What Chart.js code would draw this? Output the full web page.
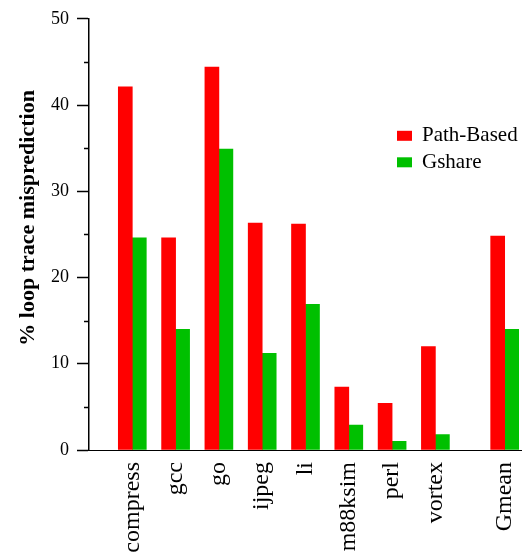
<!DOCTYPE html>
<html>
<head>
<meta charset="utf-8">
<script src="https://cdn.jsdelivr.net/npm/chart.js@4/dist/chart.umd.min.js"></script>
<style>
  html, body { margin: 0; padding: 0; background: #fff; }
  #wrap { width: 522px; height: 553px; }
</style>
</head>
<body>
<div id="wrap"><canvas id="c" width="522" height="553"></canvas></div>
<script>
// ---- data ----
const categories = ['compress', 'gcc', 'go', 'ijpeg', 'li', 'm88ksim', 'perl', 'vortex', 'Gmean'];
const categoryPositions = [0, 1, 2, 3, 4, 5, 6, 7, 8.6];
const pathBased = [42.1, 24.6, 44.4, 26.3, 26.2, 7.3, 5.4, 12.0, 24.8];
const gshare = [24.6, 14.0, 34.9, 11.2, 16.9, 2.9, 1.0, 1.8, 14.0];
const yTicks = [0, 10, 20, 30, 40, 50];
const yMinorTicks = [5, 15, 25, 35, 45];
const seriesNames = ['Path-Based', 'Gshare'];
const seriesColors = ['#ff0000', '#00c000'];

const toPoints = vals => vals.map((v, i) => ({ x: categoryPositions[i], y: v }));

const minorTickPlugin = {
  id: 'minorTicks',
  afterDraw(chart) {
    const y = chart.scales.y;
    const ctx = chart.ctx;
    ctx.save();
    ctx.strokeStyle = '#000';
    ctx.lineWidth = 1.5;
    yMinorTicks.forEach(v => {
      const py = Math.round(y.getPixelForValue(v)) + 0.5;
      ctx.beginPath();
      ctx.moveTo(y.right - 5, py);
      ctx.lineTo(y.right, py);
      ctx.stroke();
    });
    ctx.restore();
  }
};

const legendPlugin = {
  id: 'insideLegend',
  afterDraw(chart) {
    const ctx = chart.ctx;
    const area = chart.chartArea;
    const boxX = area.right - 125;
    const boxY0 = area.top + 112;
    const rowH = 26.5;
    ctx.save();
    ctx.font = '21px "Liberation Serif", "Times New Roman", serif';
    ctx.textBaseline = 'middle';
    ctx.textAlign = 'left';
    chart.data.datasets.forEach((ds, i) => {
      const by = boxY0 + i * rowH;
      ctx.fillStyle = ds.backgroundColor;
      ctx.fillRect(boxX, by, 15, 10);
      ctx.fillStyle = '#000';
      ctx.fillText(ds.label, boxX + 25, by + 5);
    });
    ctx.restore();
  }
};

new Chart(document.getElementById('c'), {
  type: 'bar',
  data: {
    datasets: [
      { label: seriesNames[0], data: toPoints(pathBased), backgroundColor: seriesColors[0], borderWidth: 0, barThickness: 14 },
      { label: seriesNames[1], data: toPoints(gshare), backgroundColor: seriesColors[1], borderWidth: 0, barThickness: 14 }
    ]
  },
  options: {
    responsive: false,
    animation: false,
    layout: { padding: { top: 18, right: 0, left: 0, bottom: 0 } },
    plugins: {
      legend: { display: false },
      tooltip: { enabled: false }
    },
    scales: {
      x: {
        type: 'linear',
        min: -1,
        max: 9,
        offset: false,
        grid: { display: false, drawTicks: false },
        border: { display: true, color: '#000', width: 1 },
        afterBuildTicks(scale) {
          scale.ticks = categoryPositions.map(v => ({ value: v }));
        },
        afterFit(scale) {
          scale.height = 103;
          scale.paddingLeft = 0;
          scale.paddingRight = 0;
        },
        ticks: {
          autoSkip: false,
          maxRotation: 90,
          minRotation: 90,
          padding: 12,
          color: '#000',
          font: { family: '"Liberation Serif", "Times New Roman", serif', size: 24 },
          callback: (value, index) => categories[index]
        }
      },
      y: {
        min: 0,
        max: 50,
        afterBuildTicks(scale) {
          scale.ticks = yTicks.map(v => ({ value: v }));
        },
        afterFit(scale) {
          scale.width = 89;
        },
        grid: { display: true, drawOnChartArea: false, drawTicks: true, tickLength: 12, tickColor: '#000', tickWidth: 1.5 },
        border: { display: true, color: '#000', width: 1.5 },
        ticks: {
          padding: 8,
          color: '#000',
          font: { family: '"Liberation Serif", "Times New Roman", serif', size: 18 }
        },
        title: {
          display: true,
          text: '      % loop trace misprediction',
          color: '#000',
          padding: { top: 15, bottom: 0 },
          font: { family: '"Liberation Serif", "Times New Roman", serif', size: 22, weight: 'bold' }
        }
      }
    }
  },
  plugins: [minorTickPlugin, legendPlugin]
});
</script>
</body>
</html>
